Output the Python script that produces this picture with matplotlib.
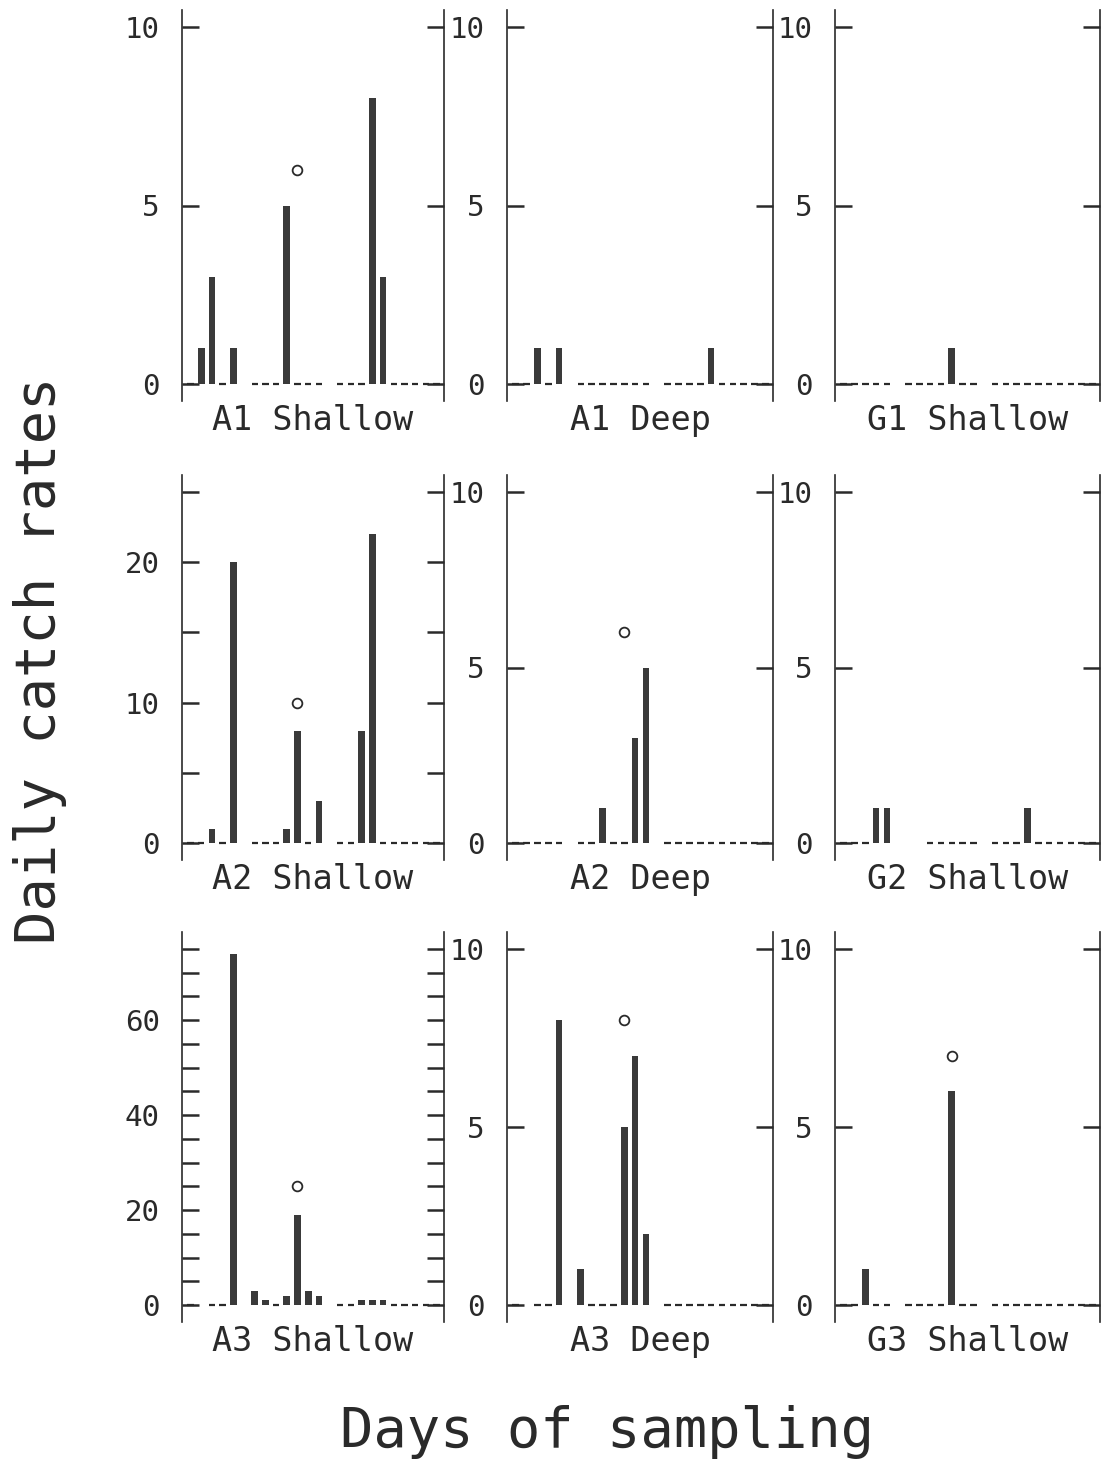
"""Daily catch rates per site and depth over the sampling days (3x3 panels)."""

import matplotlib

matplotlib.use("Agg")

import matplotlib.pyplot as plt
from matplotlib.ticker import MultipleLocator

# one entry per sampling day; None = not sampled, 0 = sampled but nothing caught
DAYS = list(range(24))

A1_SHALLOW = [0, 1, 3, 0, 1, None, 0, 0, 0, 5, 0, 0, 0, None, 0, 0, 0, 8, 3, 0, 0, 0, 0, 0]
A1_DEEP = [0, 0, 1, 0, 1, None, 0, 0, 0, 0, 0, 0, 0, None, 0, 0, 0, 0, 1, 0, 0, 0, 0, 0]
G1_SHALLOW = [0, 0, 0, 0, 0, None, 0, 0, 0, 0, 1, 0, 0, None, 0, 0, 0, 0, 0, 0, 0, 0, 0, 0]
A2_SHALLOW = [0, 0, 1, 0, 20, None, 0, 0, 0, 1, 8, 0, 3, None, 0, 0, 8, 22, 0, 0, 0, 0, 0, 0]
A2_DEEP = [0, 0, 0, 0, 0, None, 0, 0, 1, 0, 0, 3, 5, None, 0, 0, 0, 0, 0, 0, 0, 0, 0, 0]
G2_SHALLOW = [0, 0, 0, 1, 1, None, None, None, 0, 0, 0, 0, 0, None, 0, 0, 0, 1, 0, 0, 0, 0, 0, 0]
A3_SHALLOW = [0, None, 0, 0, 74, None, 3, 1, 0, 2, 19, 3, 2, None, 0, 0, 1, 1, 1, 0, 0, 0, 0, 0]
A3_DEEP = [0, None, 0, 0, 8, None, 1, 0, 0, 0, 5, 7, 2, None, 0, 0, 0, 0, 0, 0, 0, 0, 0, 0]
G3_SHALLOW = [0, 0, 1, 0, 0, None, 0, 0, 0, 0, 6, 0, 0, None, 0, 0, 0, 0, 0, 0, 0, 0, 0, 0]

PANEL_NAMES = [
    "A1 Shallow", "A1 Deep", "G1 Shallow",
    "A2 Shallow", "A2 Deep", "G2 Shallow",
    "A3 Shallow", "A3 Deep", "G3 Shallow",
]
PANEL_DATA = [
    A1_SHALLOW, A1_DEEP, G1_SHALLOW,
    A2_SHALLOW, A2_DEEP, G2_SHALLOW,
    A3_SHALLOW, A3_DEEP, G3_SHALLOW,
]

# open circle marker drawn over day 10 (None = no marker)
CIRCLE_DAY = 10
CIRCLE_VALUES = [6, None, None, 10, 6, None, 25, 8, 7]

Y_TOPS = [10, 10, 10, 25, 10, 10, 75, 10, 10]
Y_LABEL_STEPS = [5, 5, 5, 10, 5, 5, 20, 5, 5]
Y_TICK_STEP = 5

FONT = ["DejaVu Sans Mono", "DejaVu Sans"]
INK = "#2a2a2a"
BAR = "#3a3a3a"

W, H = 1102, 1460
COL_X = [(182, 444), (507, 773), (835, 1100)]
ROW_Y = [(10, 401), (475, 860), (932, 1322)]
PAD_PX = 17

plt.rcParams["font.family"] = FONT

fig = plt.figure(figsize=(W / 100, H / 100), dpi=100)

for i, name in enumerate(PANEL_NAMES):
    row, col = divmod(i, 3)
    x0, x1 = COL_X[col]
    y0, y1 = ROW_Y[row]
    ax = fig.add_axes([x0 / W, 1 - y1 / H, (x1 - x0) / W, (y1 - y0) / H])

    values = PANEL_DATA[i]
    bar_days = [d for d, v in zip(DAYS, values) if v]
    bar_vals = [v for v in values if v]
    zero_days = [d for d, v in zip(DAYS, values) if v == 0]

    ax.bar(bar_days, bar_vals, width=0.62, color=BAR, linewidth=0, zorder=2)
    ax.hlines(
        [0] * len(zero_days),
        [d - 0.3 for d in zero_days],
        [d + 0.3 for d in zero_days],
        color=INK,
        linewidth=1.6,
        zorder=2,
    )
    if CIRCLE_VALUES[i] is not None:
        ax.plot(
            [CIRCLE_DAY], [CIRCLE_VALUES[i]], "o",
            ms=7, mfc="white", mec=INK, mew=1.3, zorder=3,
        )

    top = Y_TOPS[i]
    pad = top * PAD_PX / (y1 - y0 - 2 * PAD_PX)
    ax.set_ylim(-pad, top + pad)
    ax.set_xlim(-0.8, 23.7)

    ax.yaxis.set_major_locator(MultipleLocator(Y_LABEL_STEPS[i]))
    ax.yaxis.set_minor_locator(MultipleLocator(Y_TICK_STEP))
    ax.set_yticks([t for t in range(0, top + 1, Y_LABEL_STEPS[i])])
    ax.tick_params(
        axis="y", which="both", direction="in", left=True, right=True,
        length=12, width=1.8, color=INK, labelsize=21, labelcolor=INK, pad=16,
    )
    ax.set_xticks([])

    for side in ("top", "bottom"):
        ax.spines[side].set_visible(False)
    for side in ("left", "right"):
        ax.spines[side].set_linewidth(1.2)
        ax.spines[side].set_color(INK)

    ax.set_xlabel(name, fontsize=24, color=INK, labelpad=2)

fig.text(40 / W, 1 - 660 / H, "Daily catch rates", rotation=90,
         fontsize=40, color=INK, ha="center", va="center")
fig.text(607 / W, 1 - 1432 / H, "Days of sampling",
         fontsize=40, color=INK, ha="center", va="center")

fig.savefig("out.png", dpi=100, facecolor="white")
plt.close(fig)
